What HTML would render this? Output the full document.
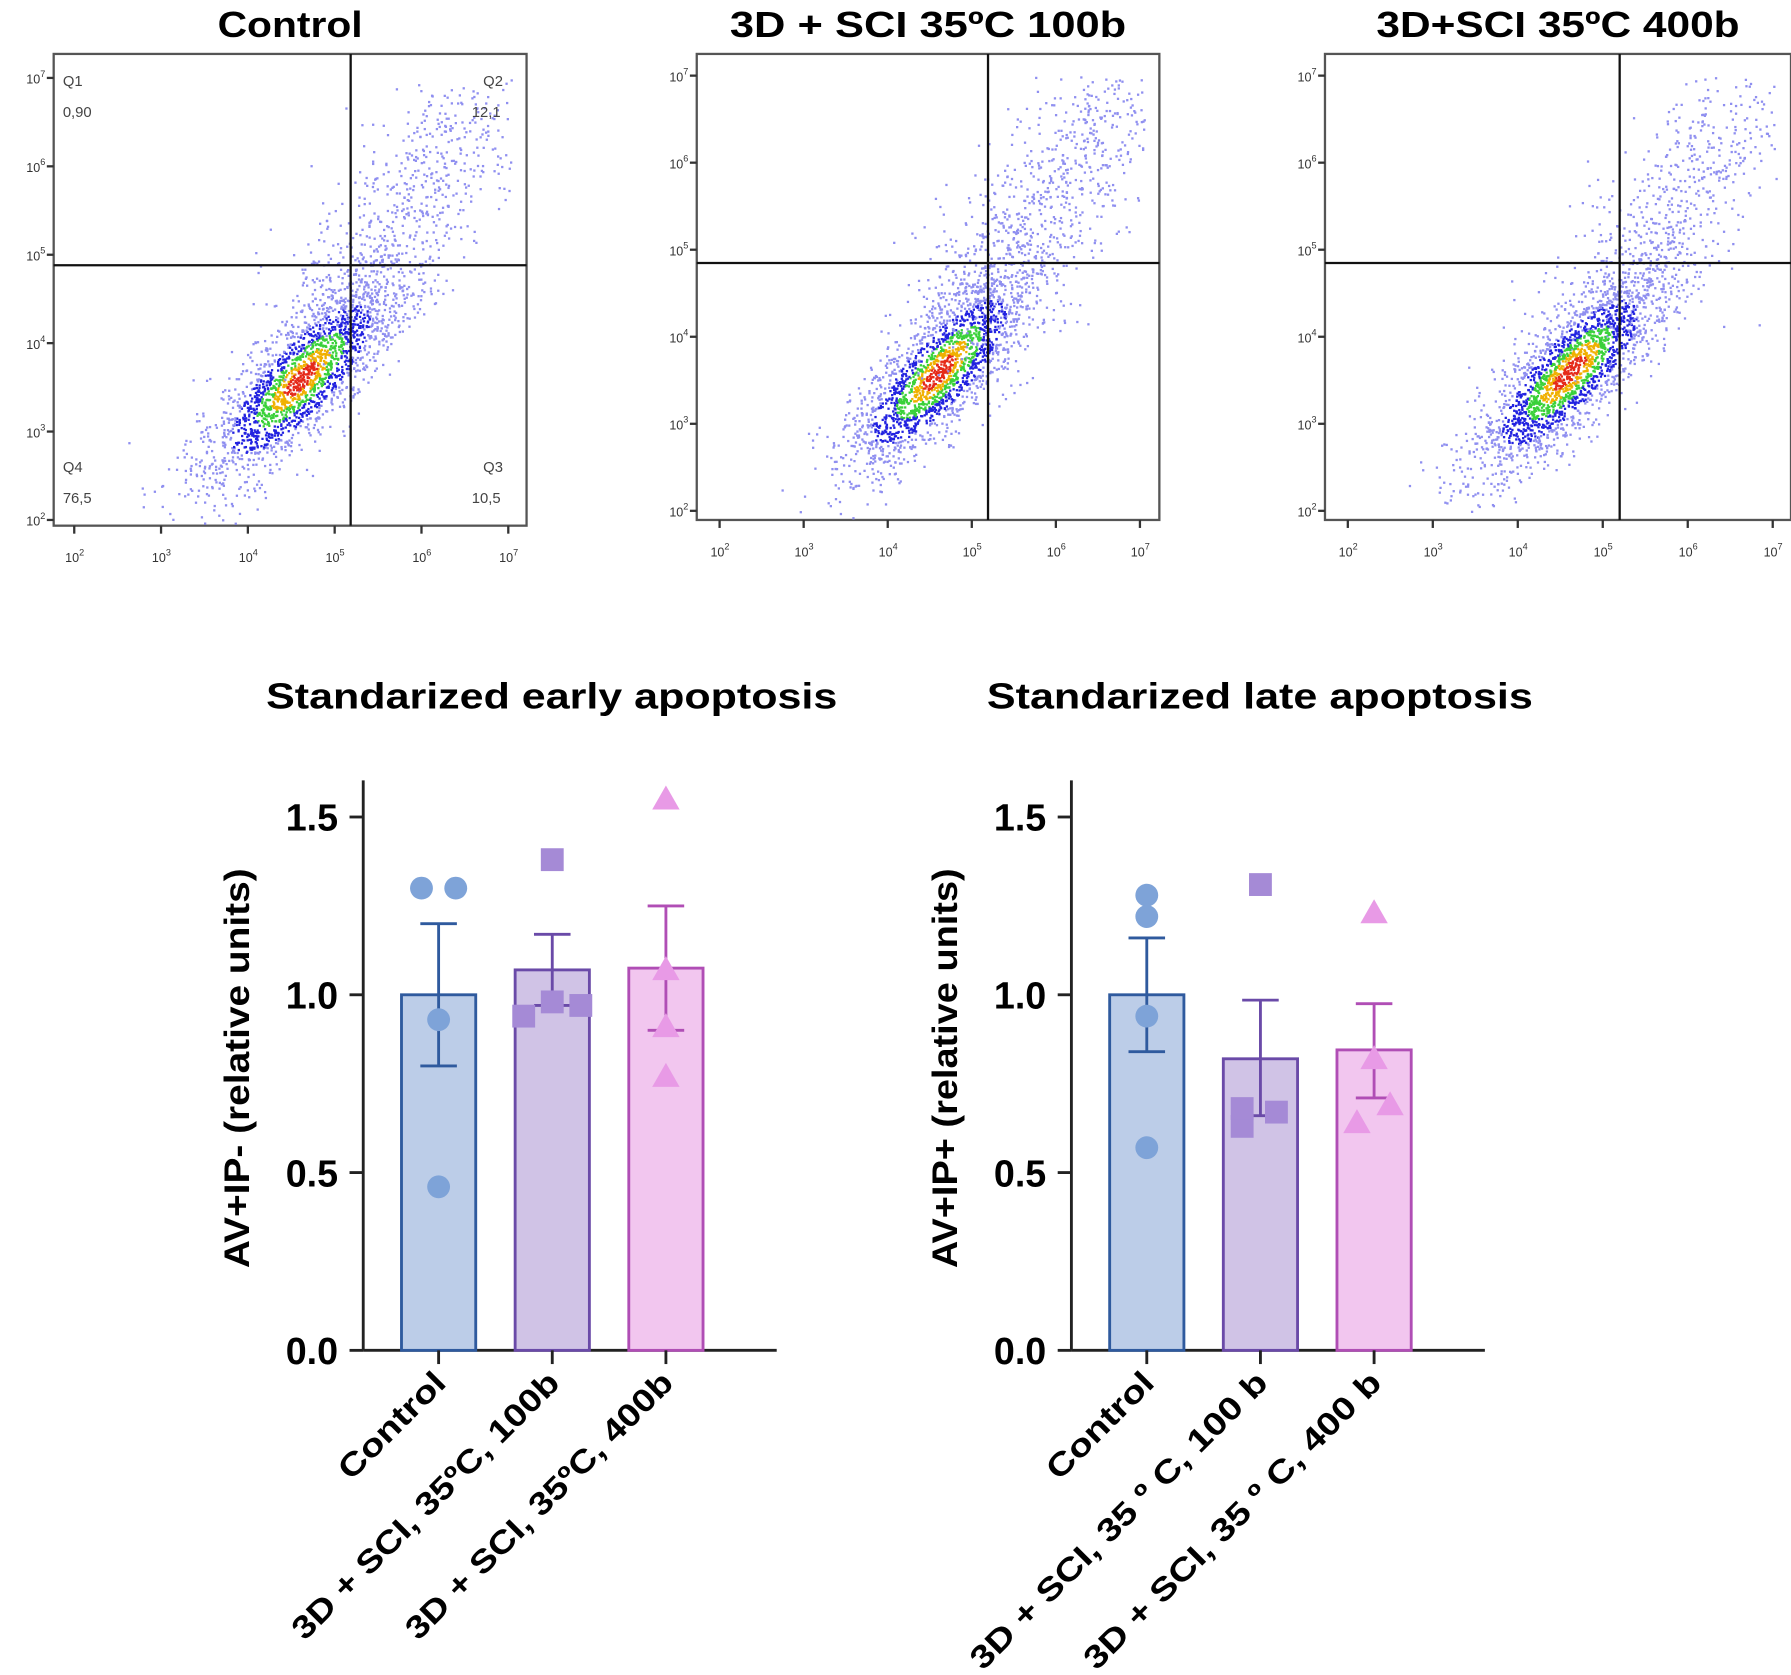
<!DOCTYPE html>
<html><head><meta charset="utf-8"><style>
html,body{margin:0;padding:0;background:#fff}
svg{display:block}
text{font-family:"Liberation Sans",Arial,sans-serif}
</style></head><body>
<svg id="fig" width="1791" height="1675" viewBox="0 0 1568 1466" xmlns="http://www.w3.org/2000/svg">
<g id="flow"></g>
<g id="bars"></g>
</svg>
<script>
// ---- bar chart data ----
const categories = ["Control","3D + SCI, 35ºC, 100b","3D + SCI, 35ºC, 400b"];
const categories2 = ["Control","3D + SCI, 35 º C, 100 b","3D + SCI, 35 º C, 400 b"];
const earlyMeans = [1.0, 1.07, 1.075];
const earlyLow = [0.80, 0.97, 0.90];
const earlyHigh = [1.20, 1.17, 1.25];
const earlyPts = [[1.30,1.30,0.93,0.46],[1.38,0.94,0.98,0.97],[1.55,1.07,0.91,0.77]];
const earlyOff = [[-15,15,0,0],[0,-25,0,25],[0,0,0,0]];
const lateMeans = [1.0, 0.82, 0.845];
const lateLow = [0.84, 0.66, 0.71];
const lateHigh = [1.16, 0.985, 0.975];
const latePts = [[1.28,1.22,0.94,0.57],[1.31,0.63,0.68,0.67],[1.23,0.82,0.64,0.69]];
const lateOff = [[0,0,0,0],[0,-16,-16,14],[0,0,-15,14]];
const yTicks = [0.0,0.5,1.0,1.5];
const quadLabels = ["Q1","0,90","Q2","12,1","Q4","76,5","Q3","10,5"];

const NS="http://www.w3.org/2000/svg";
function mk(tag,attrs,parent,txt){const e=document.createElementNS(NS,tag);for(const k in attrs)e.setAttribute(k,attrs[k]);if(txt!==undefined)e.textContent=txt;parent.appendChild(e);return e;}

const fills=["#bccde8","#d0c3e6","#f2c6ef"], strokes=["#2f5a9e","#6a4aa8","#b04eb5"], ptc=["#7ea3d8","#a58ad6","#e89ae6"];

function barChart(ox, title, ytitle, cats, means, lo, hi, pts, offs, name, tlen, lablens){
  const g=mk("g",{},document.getElementById("bars"));
  
  
  const y0=1182, k=311.3;
  const Y=v=>y0-v*k;
  const X=i=>ox+66+i*99.5;
  const t=mk("text",{x:ox+165,y:620,"text-anchor":"middle","font-size":32,"font-weight":"bold",textLength:tlen,lengthAdjust:"spacingAndGlyphs"},g,title);
  
  
  const yt=mk("text",{transform:`translate(${ox-100},935) rotate(-90)`,"text-anchor":"middle","font-size":31,"font-weight":"bold",textLength:350,lengthAdjust:"spacingAndGlyphs"},g,ytitle);
  
  
  mk("line",{x1:ox,y1:683,x2:ox,y2:y0,stroke:"#222","stroke-width":2.5},g);
  mk("line",{x1:ox,y1:y0,x2:ox+362,y2:y0,stroke:"#222","stroke-width":2.5},g);
  yTicks.forEach(v=>{
    mk("line",{x1:ox-12,y1:Y(v),x2:ox,y2:Y(v),stroke:"#222","stroke-width":2.5},g);
    const tl=mk("text",{x:ox-22,y:Y(v)+12,"text-anchor":"end","font-size":33,"font-weight":"bold"},g,v.toFixed(1));
    
    
  });
  cats.forEach((c,i)=>{
    const cx=X(i);
    const r=mk("rect",{x:cx-32.5,y:Y(means[i]),width:65,height:y0-Y(means[i]),fill:fills[i],stroke:strokes[i],"stroke-width":2.5},g);
    
    
    mk("line",{x1:cx,y1:y0,x2:cx,y2:y0+12,stroke:"#222","stroke-width":2.5},g);
    mk("line",{x1:cx,y1:Y(lo[i]),x2:cx,y2:Y(hi[i]),stroke:strokes[i],"stroke-width":2.5},g);
    [lo[i],hi[i]].forEach(v=>mk("line",{x1:cx-16,y1:Y(v),x2:cx+16,y2:Y(v),stroke:strokes[i],"stroke-width":2.5},g));
    pts[i].forEach((v,j)=>{
      const px=cx+offs[i][j], py=Y(v);
      let p;
      if(i===0) p=mk("circle",{cx:px,cy:py,r:10,fill:ptc[i]},g);
      else if(i===1) p=mk("rect",{x:px-10,y:py-10,width:20,height:20,fill:ptc[i]},g);
      else p=mk("polygon",{points:`${px},${py-12} ${px-12},${py+9} ${px+12},${py+9}`,fill:ptc[i]},g);
      
      
    });
    const xl=mk("text",{transform:`translate(${cx+8},${y0+30}) rotate(-45)`,"text-anchor":"end","font-size":28,"font-weight":"bold",textLength:lablens[i],lengthAdjust:"spacingAndGlyphs"},g,c);
    
    
  });
}
barChart(318,"Standarized early apoptosis","AV+IP- (relative units)",categories,earlyMeans,earlyLow,earlyHigh,earlyPts,earlyOff,"early-apoptosis-chart",500,[120,318,318]);
barChart(938,"Standarized late apoptosis","AV+IP+ (relative units)",categories2,lateMeans,lateLow,lateHigh,latePts,lateOff,"late-apoptosis-chart",478,[120,355,355]);

// ---- flow cytometry dot plots (texture) ----
let seed=7;function rnd(){seed=(seed*16807)%2147483647;return seed/2147483647;}
function gauss(){return Math.sqrt(-2*Math.log(rnd()+1e-9))*Math.cos(2*Math.PI*rnd());}
const plots=[
 {title:"Control",tl:127,bx:47,bw:414,by:47,bh:413,gx:307,gy:232,x2:65,x7:445,y7:68,y2:455,tail:0.25,lbl:true},
 {title:"3D + SCI 35ºC 100b",tl:347,bx:610,bw:405,by:47,bh:408,gx:865,gy:230,x2:630,x7:998,y7:66,y2:447,tail:0.3,lbl:false},
 {title:"3D+SCI 35ºC 400b",tl:318,bx:1160,bw:408,by:47,bh:408,gx:1418,gy:230,x2:1180,x7:1552,y7:66,y2:447,tail:0.22,lbl:false}
];
const fg=document.getElementById("flow");
plots.forEach((p,pi)=>{
  const g=mk("g",{},fg);
  
  
  const X=l=>p.x2+(l-2)*(p.x7-p.x2)/5, Y=l=>p.y2-(l-2)*(p.y2-p.y7)/5;
  const t=mk("text",{x:p.bx+p.bw/2,y:32,"text-anchor":"middle","font-size":32,"font-weight":"bold",textLength:p.tl,lengthAdjust:"spacingAndGlyphs"},g,p.title);
  
  
  mk("rect",{x:p.bx,y:p.by,width:p.bw,height:p.bh,fill:"#fff",stroke:"#555","stroke-width":2},g);
  let s="";
  for(let i=0;i<2800;i++){
    let lx,ly,d;
    if(rnd()<p.tail){const u=rnd();lx=4.8+u*1.9+gauss()*0.4;ly=4.1+u*2.6+gauss()*0.35;d=2.5;}
    else{const a=gauss(),b=gauss();lx=4.6+a*0.55+b*0.14;ly=3.6+a*0.55-b*0.22;d=Math.hypot(a,b);}
    if(lx<2||lx>7.05||ly<1.9||ly>7)continue;
    const c=d<0.35?"#e52a1a":d<0.6?"#f0b000":d<0.9?"#3ad13a":d<1.4?"#2222e0":"#8f8ff0";
    s+=`<rect x="${X(lx).toFixed(1)}" y="${Y(ly).toFixed(1)}" width="2" height="2" fill="${c}"/>`;
  }
  const dg=mk("g",{},g);dg.innerHTML=s;
  mk("line",{x1:p.bx,y1:p.gy,x2:p.bx+p.bw,y2:p.gy,stroke:"#111","stroke-width":2},g);
  mk("line",{x1:p.gx,y1:p.by,x2:p.gx,y2:p.by+p.bh,stroke:"#111","stroke-width":2},g);
  for(let d=2;d<=7;d++){
    mk("line",{x1:p.bx-6,y1:Y(d),x2:p.bx,y2:Y(d),stroke:"#333","stroke-width":2},g);
    mk("line",{x1:X(d),y1:p.by+p.bh,x2:X(d),y2:p.by+p.bh+7,stroke:"#333","stroke-width":2},g);
    const yl=mk("text",{x:p.bx-24,y:Y(d)+5,"font-size":11,fill:"#333"},g);
    yl.innerHTML=`10<tspan dy="-6" font-size="8">${d}</tspan>`;
    
    
    const xl=mk("text",{x:X(d)-8,y:p.by+p.bh+32,"font-size":11,fill:"#333"},g);
    xl.innerHTML=`10<tspan dy="-6" font-size="8">${d}</tspan>`;
    
    
  }
  if(p.lbl){
    const pos=[[p.bx+8,75],[p.bx+8,102],[p.bx+p.bw-38,75],[p.bx+p.bw-48,102],[p.bx+8,413],[p.bx+8,440],[p.bx+p.bw-38,413],[p.bx+p.bw-48,440]];
    quadLabels.forEach((q,i)=>{
      const ql=mk("text",{x:pos[i][0],y:pos[i][1],"font-size":13,fill:"#444"},g,q);
      
      
    });
  }
});
</script>
</body></html>
